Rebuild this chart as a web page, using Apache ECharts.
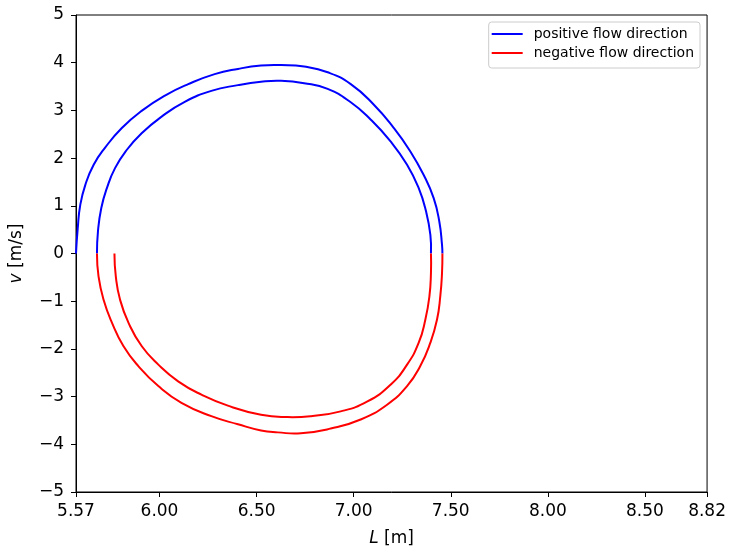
<!DOCTYPE html>
<html>
<head>
<meta charset="utf-8">
<script src="https://cdn.jsdelivr.net/npm/echarts@6/dist/echarts.min.js"></script>
<style>html,body{margin:0;padding:0;background:#fff}#c{width:729px;height:554px}</style>
</head>
<body>
<div id="c"></div>
<script>
// Outer loop, positive flow (blue)
var outerPosL = [5.570, 5.579, 5.592, 5.618, 5.661, 5.720, 5.806, 5.908, 6.028, 6.148, 6.284, 6.404, 6.523, 6.626, 6.745, 6.866, 6.985, 7.104, 7.207, 7.292, 7.360, 7.412, 7.441, 7.455, 7.457];
var outerPosV = [0.00, 0.53, 1.02, 1.44, 1.86, 2.22, 2.63, 2.99, 3.31, 3.55, 3.76, 3.87, 3.94, 3.95, 3.92, 3.80, 3.55, 3.12, 2.63, 2.14, 1.65, 1.16, 0.67, 0.18, 0.00];
// Outer loop, negative flow (red)
var outerNegL = [7.457, 7.455, 7.446, 7.429, 7.395, 7.343, 7.275, 7.172, 7.036, 6.882, 6.728, 6.609, 6.523, 6.404, 6.267, 6.113, 5.994, 5.891, 5.814, 5.755, 5.712, 5.686, 5.678];
var outerNegV = [0.00, -0.41, -0.90, -1.39, -1.87, -2.36, -2.78, -3.17, -3.48, -3.67, -3.77, -3.75, -3.71, -3.58, -3.41, -3.13, -2.78, -2.36, -1.94, -1.45, -0.97, -0.48, 0.00];
// Inner loop, positive flow (blue)
var innerPosL = [5.678, 5.683, 5.700, 5.729, 5.771, 5.831, 5.908, 6.011, 6.130, 6.267, 6.404, 6.523, 6.626, 6.745, 6.866, 6.985, 7.087, 7.190, 7.275, 7.335, 7.373, 7.395, 7.398];
var innerPosV = [0.00, 0.46, 0.95, 1.37, 1.79, 2.17, 2.52, 2.87, 3.18, 3.41, 3.53, 3.60, 3.62, 3.57, 3.45, 3.17, 2.81, 2.35, 1.86, 1.37, 0.88, 0.39, 0.00];
// Inner loop, negative flow (red)
var innerNegL = [7.398, 7.398, 7.390, 7.369, 7.335, 7.275, 7.190, 7.071, 6.933, 6.780, 6.660, 6.523, 6.352, 6.216, 6.096, 5.994, 5.908, 5.840, 5.797, 5.775, 5.768];
var innerNegV = [0.00, -0.41, -0.90, -1.39, -1.87, -2.33, -2.75, -3.10, -3.31, -3.41, -3.43, -3.38, -3.19, -2.96, -2.68, -2.33, -1.94, -1.45, -0.97, -0.48, 0.00];

var xTicks = [5.57, 6.00, 6.50, 7.00, 7.50, 8.00, 8.50, 8.82];
var seriesNames = ['positive flow direction', 'negative flow direction'];

function zip(a, b) { return a.map(function (x, i) { return [x, b[i]]; }); }

var FONT = 'DejaVu Sans';
var chart = echarts.init(document.getElementById('c'), null, { renderer: 'canvas' });

// Smooth curve through the data points, positioned via the chart's own axes (api.coord)
function curveSeries(name, color, Ls, Vs) {
  return {
    name: name, type: 'custom', data: zip(Ls, Vs),
    encode: { x: 0, y: 1 },
    itemStyle: { color: color },
    silent: true,
    renderItem: function (params, api) {
      if (params.dataIndex !== 0) return null;
      var pts = Ls.map(function (l, i) { return api.coord([l, Vs[i]]); });
      return {
        type: 'polyline',
        shape: { points: pts, smooth: 0.5 },
        style: { stroke: color, lineWidth: 2, fill: 'none', lineJoin: 'round' }
      };
    }
  };
}

var legendIcon = 'path://M0,0H31V2H0Z';

chart.setOption({
  animation: false,
  backgroundColor: '#fff',
  grid: { left: 74.5, right: 21, top: 15, bottom: 62, show: true, borderColor: '#000', borderWidth: 1, containLabel: false },
  legend: {
    data: [
      { name: seriesNames[0], icon: legendIcon },
      { name: seriesNames[1], icon: legendIcon }
    ],
    orient: 'vertical',
    right: 29, top: 22,
    itemWidth: 31, itemHeight: 2, itemGap: 5,
    padding: [5, 6, 8, 3],
    borderColor: '#cccccc', borderWidth: 1, borderRadius: 3,
    backgroundColor: 'rgba(255,255,255,0.8)',
    textStyle: { fontFamily: FONT, fontSize: 14, color: '#000', padding: [0, 0, 0, 6] },
    selectedMode: false
  },
  xAxis: {
    type: 'value', min: 5.57, max: 8.82,
    name: '{i|L} [m]', nameLocation: 'middle', nameGap: 38,
    nameTextStyle: { fontFamily: FONT, fontSize: 17, color: '#000', rich: { i: { fontFamily: FONT, fontSize: 17, fontStyle: 'italic', color: '#000' } } },
    axisLine: { show: true, onZero: false, lineStyle: { color: '#000', width: 1 } },
    axisTick: { show: true, inside: false, length: 5, customValues: xTicks, lineStyle: { color: '#000', width: 1 } },
    axisLabel: { customValues: xTicks, fontFamily: FONT, fontSize: 17, color: '#000', margin: 11, hideOverlap: false,
      formatter: function (v) { return Number(v).toFixed(2); } },
    splitLine: { show: false }
  },
  yAxis: {
    type: 'value', min: -5, max: 5, interval: 1,
    name: '{i|v} [m/s]', nameLocation: 'middle', nameGap: 51,
    nameTextStyle: { fontFamily: FONT, fontSize: 17, color: '#000', rich: { i: { fontFamily: FONT, fontSize: 17, fontStyle: 'italic', color: '#000' } } },
    axisLine: { show: true, onZero: false, lineStyle: { color: '#000', width: 1 } },
    axisTick: { show: true, inside: false, length: 5, lineStyle: { color: '#000', width: 1 } },
    axisLabel: { fontFamily: FONT, fontSize: 17, color: '#000', margin: 12,
      formatter: function (v) { return String(v).replace('-', '\u2212'); } },
    splitLine: { show: false }
  },
  series: [
    curveSeries(seriesNames[0], '#0000ff', outerPosL, outerPosV),
    curveSeries(seriesNames[0], '#0000ff', innerPosL, innerPosV),
    curveSeries(seriesNames[1], '#ff0000', outerNegL, outerNegV),
    curveSeries(seriesNames[1], '#ff0000', innerNegL, innerNegV)
  ]
});
</script>
</body>
</html>
